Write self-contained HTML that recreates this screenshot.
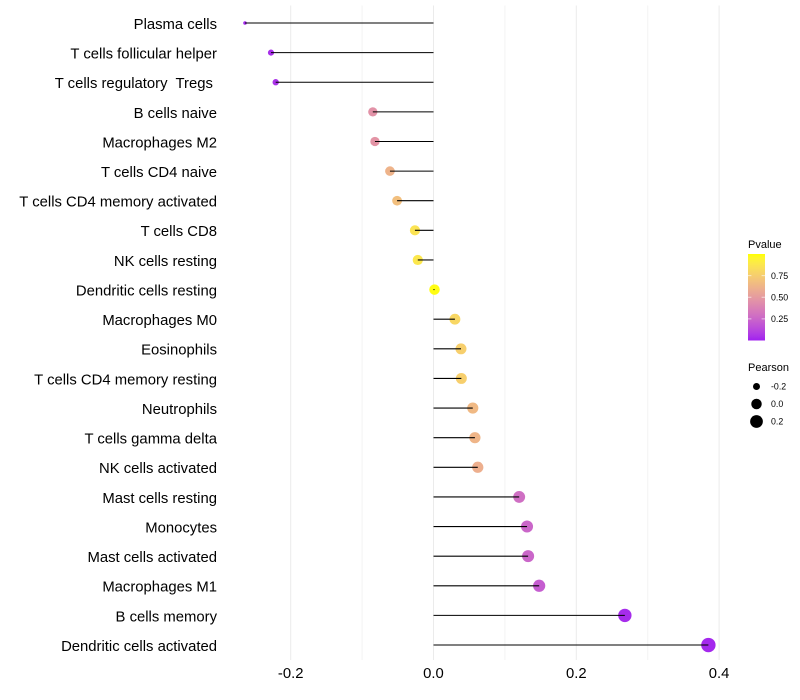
<!DOCTYPE html>
<html lang="en">
<head>
<meta charset="utf-8">
<title>Pearson lollipop chart</title>
<style>
html,body{margin:0;padding:0;background:#fff;}
svg{display:block;font-family:"Liberation Sans",sans-serif;}
</style>
</head>
<body>
<svg id="chart" width="800" height="700" viewBox="0 0 800 700" xmlns="http://www.w3.org/2000/svg"></svg>
<script>
const categories = ["Plasma cells","T cells follicular helper","T cells regulatory  Tregs ","B cells naive","Macrophages M2","T cells CD4 naive","T cells CD4 memory activated","T cells CD8","NK cells resting","Dendritic cells resting","Macrophages M0","Eosinophils","T cells CD4 memory resting","Neutrophils","T cells gamma delta","NK cells activated","Mast cells resting","Monocytes","Mast cells activated","Macrophages M1","B cells memory","Dendritic cells activated"];
const pearson = [-0.264,-0.2276,-0.221,-0.085,-0.082,-0.061,-0.051,-0.026,-0.022,0.0014,0.030,0.0385,0.039,0.055,0.058,0.062,0.120,0.131,0.1325,0.148,0.268,0.385];
const pvalue = [0.02,0.04,0.05,0.46,0.47,0.62,0.68,0.86,0.88,0.99,0.80,0.76,0.76,0.65,0.63,0.60,0.29,0.25,0.25,0.21,0.03,0.02];
const xTicks = [-0.2,0,0.2,0.4];
const xTickLabels = ["-0.2","0.0","0.2","0.4"];
const xMinorTicks = [-0.1,0.1,0.3];
const colorTicks = [0.75,0.5,0.25];
const colorTickLabels = ["0.75","0.50","0.25"];
const sizeTicks = [-0.2,0,0.2];
const sizeTickLabels = ["-0.2","0.0","0.2"];

const svg = document.getElementById('chart');
const NS = 'http://www.w3.org/2000/svg';
function make(tag, attrs, parent) {
  const el = document.createElementNS(NS, tag);
  for (const k in attrs) el.setAttribute(k, attrs[k]);
  (parent || svg).appendChild(el);
  return el;
}
const xScale = v => 433.5 + v * 714;
const yScale = i => 23 + i * 29.62;
const pMin = Math.min(...pearson), pMax = Math.max(...pearson);
const sizeScale = v => 1.8 + 5.4 * Math.sqrt(Math.max(0, (v - pMin) / (pMax - pMin)));

function rgb2lab(c) {
  const l = c.map(v => { v /= 255; return v > 0.04045 ? Math.pow((v + 0.055) / 1.055, 2.4) : v / 12.92; });
  const x = (0.4124 * l[0] + 0.3576 * l[1] + 0.1805 * l[2]) / 0.95047;
  const y = 0.2126 * l[0] + 0.7152 * l[1] + 0.0722 * l[2];
  const z = (0.0193 * l[0] + 0.1192 * l[1] + 0.9505 * l[2]) / 1.08883;
  const f = t => t > 0.008856 ? Math.cbrt(t) : 7.787 * t + 16 / 116;
  return [116 * f(y) - 16, 500 * (f(x) - f(y)), 200 * (f(y) - f(z))];
}
function lab2rgb(L) {
  const fy = (L[0] + 16) / 116, fx = L[1] / 500 + fy, fz = fy - L[2] / 200;
  const g = t => t * t * t > 0.008856 ? t * t * t : (t - 16 / 116) / 7.787;
  const x = g(fx) * 0.95047, y = g(fy), z = g(fz) * 1.08883;
  const r = [3.2406 * x - 1.5372 * y - 0.4986 * z, -0.9689 * x + 1.8758 * y + 0.0415 * z, 0.0557 * x - 0.204 * y + 1.057 * z];
  return r.map(v => {
    v = v > 0.0031308 ? 1.055 * Math.pow(v, 1 / 2.4) - 0.055 : 12.92 * v;
    return Math.round(Math.min(1, Math.max(0, v)) * 255);
  });
}
const labLow = rgb2lab([160, 32, 240]), labHigh = rgb2lab([255, 255, 0]);
function colorScale(p) {
  const c = lab2rgb(labLow.map((v, i) => v + (labHigh[i] - v) * p));
  return 'rgb(' + c.join(',') + ')';
}

/* grid */
xMinorTicks.forEach(v => {
  const el = make('line', {x1: xScale(v), x2: xScale(v), y1: 5.5, y2: 660, stroke: '#f3f3f3', 'stroke-width': 1});
  
  
});
xTicks.forEach(v => {
  const el = make('line', {x1: xScale(v), x2: xScale(v), y1: 5.5, y2: 660, stroke: '#ebebeb', 'stroke-width': 1});
  
  
});

/* points then segments */
categories.forEach((name, i) => {
  const pt = make('circle', {cx: xScale(pearson[i]), cy: yScale(i), r: sizeScale(pearson[i]), fill: colorScale(pvalue[i])});
  
  
  const seg = make('line', {x1: xScale(pearson[i]), x2: xScale(0), y1: yScale(i), y2: yScale(i), stroke: '#000', 'stroke-width': 1.07});
  
  
  const lab = make('text', {x: 217, y: yScale(i) + 5.9, 'text-anchor': 'end', 'font-size': 14.85, fill: '#000'});
  lab.setAttribute('xml:space', 'preserve');
  lab.style.whiteSpace = 'pre';
  lab.textContent = name;
  
  
});

/* x tick labels */
xTicks.forEach((v, i) => {
  const t = make('text', {x: xScale(v), y: 678, 'text-anchor': 'middle', 'font-size': 14.85, fill: '#000'});
  t.textContent = xTickLabels[i];
  
  
});

/* colour legend */
const defs = make('defs', {});
const grad = make('linearGradient', {id: 'pv', x1: 0, x2: 0, y1: 1, y2: 0}, defs);
for (let s = 0; s <= 20; s++) {
  make('stop', {offset: s / 20, 'stop-color': colorScale(s / 20)}, grad);
}
const pTitle = make('text', {x: 748, y: 248, 'font-size': 11, fill: '#000'});
pTitle.textContent = 'Pvalue';


const colorY = p => 340.5 - p * 86.5;
const bar = make('rect', {x: 748, y: colorY(1), width: 17, height: 86.5, fill: 'url(#pv)'});


colorTicks.forEach((p, i) => {
  make('line', {x1: 748, x2: 751.4, y1: colorY(p), y2: colorY(p), stroke: '#fff', 'stroke-opacity': 0.6, 'stroke-width': 1});
  make('line', {x1: 761.6, x2: 765, y1: colorY(p), y2: colorY(p), stroke: '#fff', 'stroke-opacity': 0.6, 'stroke-width': 1});
  const t = make('text', {x: 771, y: colorY(p) + 3.2, 'font-size': 8.8, fill: '#000'});
  t.textContent = colorTickLabels[i];
  
  
});

/* size legend */
const sTitle = make('text', {x: 748, y: 371, 'font-size': 11, fill: '#000'});
sTitle.textContent = 'Pearson';


sizeTicks.forEach((v, i) => {
  const cy = 386.5 + i * 17.5;
  const c = make('circle', {cx: 756.5, cy: cy, r: sizeScale(v), fill: '#000'});
  
  
  const t = make('text', {x: 771, y: cy + 3.2, 'font-size': 8.8, fill: '#000'});
  t.textContent = sizeTickLabels[i];
  
  
});
</script>
</body>
</html>
